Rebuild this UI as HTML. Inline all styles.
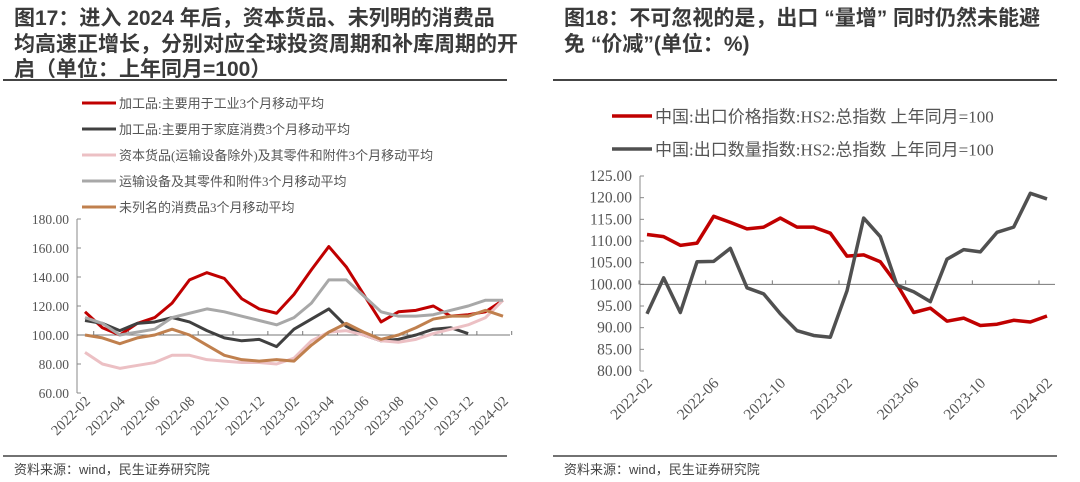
<!DOCTYPE html>
<html><head><meta charset="utf-8"><style>
body{margin:0;background:#fff;width:1080px;height:482px;overflow:hidden}
svg{display:block}
.t{font-family:"Liberation Sans","Noto Sans CJK SC",sans-serif;font-weight:bold;font-size:21px;fill:#3a3a3a}
.lg{font-family:"Liberation Serif","Noto Sans CJK SC",serif;fill:#555}
.tk{font-family:"Liberation Serif",serif;fill:#555}
.src{font-family:"Liberation Sans","Noto Sans CJK SC",sans-serif;font-size:13px;fill:#444}
</style></head><body>
<svg id="c" width="1080" height="482">
<text class="t" x="14" y="25">图17：进入 2024 年后，资本货品、未列明的消费品</text>
<text class="t" x="14" y="51">均高速正增长，分别对应全球投资周期和补库周期的开</text>
<text class="t" x="14" y="76">启（单位：上年同月=100）</text>
<line x1="3" y1="80" x2="507" y2="80" stroke="#444" stroke-width="2"/>
<text class="t" x="564" y="25">图18：不可忽视的是，出口 “量增” 同时仍然未能避</text>
<text class="t" x="564" y="51">免 “价减”(单位：%)</text>
<line x1="553" y1="80" x2="1057" y2="80" stroke="#444" stroke-width="2"/>
<line x1="3" y1="456" x2="507" y2="456" stroke="#444" stroke-width="1.5"/>
<line x1="553" y1="456" x2="1057" y2="456" stroke="#444" stroke-width="1.5"/>
<text class="src" x="14" y="474">资料来源：wind，民生证券研究院</text>
<text class="src" x="564" y="474">资料来源：wind，民生证券研究院</text>
<g id="L"></g><g id="R"></g>
</svg>
<script>
const months=["2022-02","2022-03","2022-04","2022-05","2022-06","2022-07","2022-08","2022-09","2022-10","2022-11","2022-12","2023-01","2023-02","2023-03","2023-04","2023-05","2023-06","2023-07","2023-08","2023-09","2023-10","2023-11","2023-12","2024-01","2024-02"];
const leftNames=["加工品:主要用于工业3个月移动平均","加工品:主要用于家庭消费3个月移动平均","资本货品(运输设备除外)及其零件和附件3个月移动平均","运输设备及其零件和附件3个月移动平均","未列名的消费品3个月移动平均"];
const industrial=[116,105,100,108,112,122,138,143,139,125,118,115,128,145,161,147,128,109,116,117,120,113,114,116,124];
const household=[110,108,103,108,109,112,109,103,98,96,97,92,104,111,118,106,100,96,97,100,104,105,101];
const capital=[88,80,77,79,81,86,86,83,82,81,81,80,84,96,102,103,100,96,95,97,101,104,107,112,124];
const transport=[112,108,100,102,104,112,115,118,116,113,110,107,112,122,138,138,127,116,113,113,114,117,120,124,124];
const consumer=[100,98,94,98,100,104,100,93,86,83,82,83,82,93,102,108,102,97,100,105,111,113,113,117,113];
const leftTicks=[60,80,100,120,140,160,180];
const rightNames=["中国:出口价格指数:HS2:总指数 上年同月=100","中国:出口数量指数:HS2:总指数 上年同月=100"];
const price=[111.5,111,109,109.5,115.7,114.3,112.8,113.2,115.3,113.2,113.2,111.8,106.5,106.8,105.2,100,93.5,94.5,91.5,92.2,90.5,90.8,91.7,91.3,92.7];
const volume=[93.2,101.5,93.5,105.2,105.3,108.3,99.2,97.8,93.2,89.3,88.2,87.8,98.5,115.3,111,99.8,98.3,96,105.8,108,107.5,112,113.2,121,119.7];
const rightTicks=[80,85,90,95,100,105,110,115,120,125];

const NS="http://www.w3.org/2000/svg";
function mk(p,tag,a){const e=document.createElementNS(NS,tag);for(const k in a)e.setAttribute(k,a[k]);p.appendChild(e);return e;}
function draw(g,cfg){
 const x=i=>cfg.x0+i*(cfg.x1-cfg.x0)/(months.length-1);
 const y=v=>cfg.yb+(v-cfg.vmin)*(cfg.yt-cfg.yb)/(cfg.vmax-cfg.vmin);
 const ax=mk(g,'line',{x1:cfg.ax,y1:y(cfg.vmin),x2:cfg.ax,y2:y(cfg.vmax),stroke:'#888','stroke-width':1});
 
 
 cfg.ticks.forEach(t=>{
  const l=mk(g,'line',{x1:cfg.ax,y1:y(t),x2:cfg.ax+4,y2:y(t),stroke:'#888'});
  
  
  const tx=mk(g,'text',{x:cfg.ax-8,y:y(t)+5,'text-anchor':'end','font-size':cfg.fs,class:'tk'});
  tx.textContent=t.toFixed(2);
  
  
 });
 const bl=mk(g,'line',{x1:cfg.ax,y1:y(100),x2:cfg.xend,y2:y(100),stroke:'#777','stroke-width':1});
 
 
 months.forEach((m,i)=>{
  if(i%cfg.step)return;
  const xx=x(i)+cfg.half;
  const l=mk(g,'line',{x1:xx,y1:y(100),x2:xx,y2:y(100)-4,stroke:'#777'});
  
  
  const tx=mk(g,'text',{x:x(i)+6,y:cfg.lab,'text-anchor':'end','font-size':cfg.xfs,class:'tk',transform:`rotate(-45 ${x(i)+6} ${cfg.lab})`});
  tx.textContent=m;
  
  
 });
 cfg.series.forEach((s,k)=>{
  const p=mk(g,'polyline',{points:s.d.map((v,i)=>x(i)+','+y(v)).join(' '),fill:'none',stroke:s.c,'stroke-width':cfg.sw,'stroke-linejoin':'round'});
  
  
 });
 cfg.series.forEach((s,k)=>{
  const ly=cfg.ly0+k*cfg.ldy;
  const l=mk(g,'line',{x1:cfg.lx,y1:ly,x2:cfg.lx+cfg.lw,y2:ly,stroke:s.c,'stroke-width':cfg.sw});
  
  
  const t=mk(g,'text',{x:cfg.lx+cfg.lw+3,y:ly+cfg.lfs*0.38,'font-size':cfg.lfs,class:'lg'});
  t.textContent=s.n;
  
  
 });
}
draw(document.getElementById('L'),{x0:85,x1:503,ax:77,xend:510,yb:393,yt:219,vmin:60,vmax:180,ticks:leftTicks,fs:13.5,xfs:14.5,step:2,half:8.7,lab:402,sw:3,
 series:[{d:industrial,c:'#c00000',n:leftNames[0]},{d:household,c:'#404040',n:leftNames[1]},{d:capital,c:'#ecc0c4',n:leftNames[2]},{d:transport,c:'#a8a8a8',n:leftNames[3]},{d:consumer,c:'#c0804e',n:leftNames[4]}],
 lx:82,lw:34,ly0:103,ldy:26,lfs:13});
draw(document.getElementById('R'),{x0:647,x1:1047,ax:640,xend:1055,yb:371,yt:176,vmin:80,vmax:125,ticks:rightTicks,fs:15.5,xfs:15.5,step:4,half:-8,lab:384,sw:3.5,
 series:[{d:price,c:'#c00000',n:rightNames[0]},{d:volume,c:'#505050',n:rightNames[1]}],
 lx:612,lw:40,ly0:116,ldy:33,lfs:17});
</script>
</body></html>
